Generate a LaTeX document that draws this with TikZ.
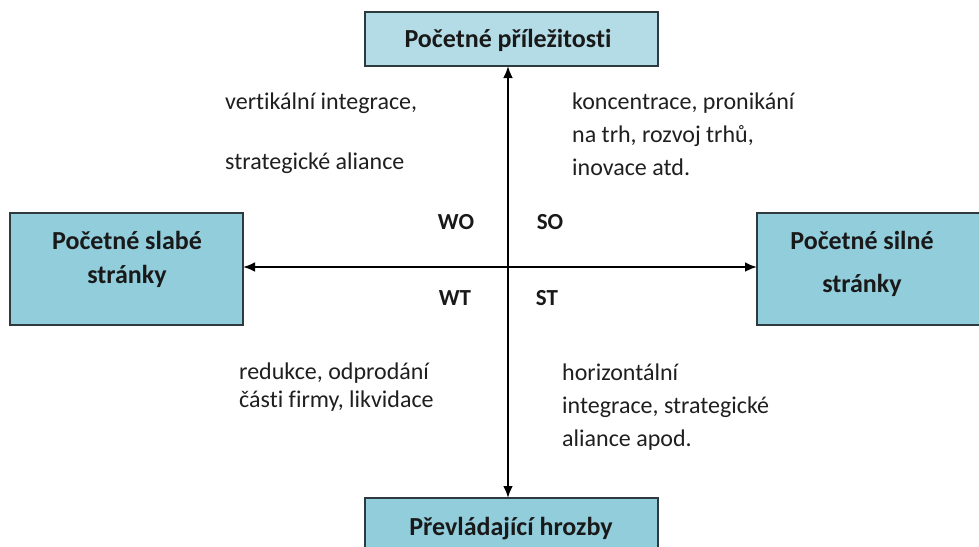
\documentclass[tikz,border=0pt]{standalone}
\usepackage{fontspec}
\setmainfont{Carlito}[Ligatures=CommonOff]
\usetikzlibrary{arrows.meta}
\definecolor{boxblue}{HTML}{92CDDC}
\definecolor{boxlight}{HTML}{B3DCE7}
\definecolor{edge}{HTML}{2E3A3E}
\begin{document}
\begin{tikzpicture}[x=1pt,y=-1pt,
  sbox/.style={draw=edge,line width=1.5pt,inner sep=0pt,outer sep=0pt},
  btxt/.style={font=\fontsize{26}{30}\selectfont\bfseries,text=black!90,inner sep=0pt,anchor=base},
  ltxt/.style={font=\fontsize{23}{26}\selectfont\bfseries,text=black!90,inner sep=0pt,anchor=base},
  body/.style={font=\fontsize{24}{28}\selectfont,text=black!88,inner sep=0pt,anchor=base west},
  axis/.style={line width=2.6pt,black,{Latex[length=12pt,width=10pt]}-{Latex[length=12pt,width=10pt]}}]
\useasboundingbox (0,0) rectangle (979,546);
\clip (0,0) rectangle (979,546);
% boxes
\node[sbox,fill=boxlight,minimum width=293pt,minimum height=54pt] (top) at (511.5,39) {};
\node[sbox,fill=boxblue,minimum width=233pt,minimum height=112pt] (left) at (126.5,269) {};
\node[sbox,fill=boxblue,minimum width=240pt,minimum height=112pt] (right) at (877,269) {};
\node[sbox,fill=boxblue,minimum width=293pt,minimum height=60pt] (bottom) at (511.5,528) {};
% box texts
\node[btxt] (ttop) at (508,47) {Početné příležitosti};
\node[btxt] (tl1) at (127,249) {Početné slabé};
\node[btxt] (tl2) at (127,283) {stránky};
\node[btxt] (tr1) at (862,249) {Početné silné};
\node[btxt] (tr2) at (862,292) {stránky};
\node[btxt] (tbot) at (511,535) {Převládající hrozby};
% axes
\coordinate (vtop) at (508,66);
\coordinate (vbot) at (508,498);
\coordinate (hl) at (243,267);
\coordinate (hr) at (757,267);
\draw[axis] (vtop) -- (vbot);
\draw[axis] (hl) -- (hr);
% quadrant labels
\node[ltxt] (wo) at (456,229) {WO};
\node[ltxt] (so) at (550,229) {SO};
\node[ltxt] (wt) at (455,305) {WT};
\node[ltxt] (st) at (547,305) {ST};
% texts
\node[body] (a1) at (225,109) {vertikální integrace,};
\node[body] (a2) at (225,169) {strategické aliance};
\node[body] (b1) at (572,109) {koncentrace, pronikání};
\node[body] (b2) at (572,142) {na trh, rozvoj trhů,};
\node[body] (b3) at (572,175) {inovace atd.};
\node[body] (c1) at (239,379) {redukce, odprodání};
\node[body] (c2) at (239,407) {části firmy, likvidace};
\node[body] (d1) at (562,380) {horizontální};
\node[body] (d2) at (562,413) {integrace, strategické};
\node[body] (d3) at (562,446) {aliance apod.};
\end{tikzpicture}
\end{document}
